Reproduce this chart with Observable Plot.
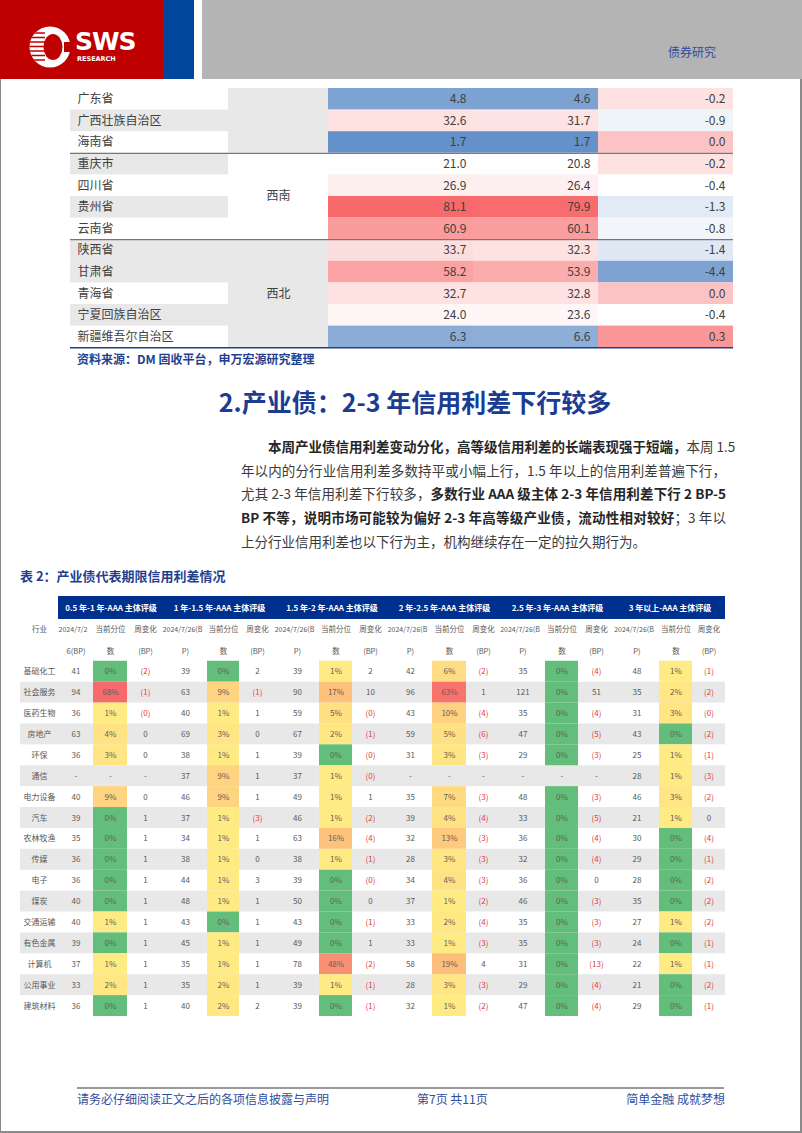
<!DOCTYPE html>
<html><head><meta charset="utf-8">
<script src="https://cdn.jsdelivr.net/npm/d3@7"></script>
<script src="https://cdn.jsdelivr.net/npm/@observablehq/plot@0.6"></script>
<style>
body{margin:0;background:#fff;}
#page{position:relative;width:802px;height:1133px;overflow:hidden;background:#fff;font-family:"Noto Sans CJK SC","Noto Sans",sans-serif;}
.a{position:absolute;}
.para{position:absolute;left:241px;top:435px;width:485px;font-size:13.5px;line-height:23.7px;color:#3a3a3a;}
.para div{white-space:nowrap;text-align:justify;text-align-last:justify;}
.para b{color:#262626;}
.blue{color:#1f3f8e;}
</style></head>
<body><div id="page">
  <!-- page frame -->
  <div class="a" style="left:0;top:0;width:1px;height:1133px;background:#8a8a8a"></div>
  <div class="a" style="left:800px;top:0;width:2px;height:1133px;background:#8a8a8a"></div>
  <div class="a" style="left:0;top:1131px;width:802px;height:2px;background:#8a8a8a"></div>
  <!-- header -->
  <div class="a" style="left:0;top:0;width:163px;height:79px;background:#bf0000"></div>
  <div class="a" style="left:163px;top:0;width:31px;height:79px;background:#00479d"></div>
  <div class="a" style="left:202px;top:0;width:600px;height:79px;background:#b4b4b4"></div>
  <svg class="a" style="left:28px;top:25px" width="46" height="46" viewBox="0 0 46 46">
    <defs><clipPath id="lc"><circle cx="22" cy="22" r="20.5"/></clipPath></defs>
    <circle cx="22" cy="22" r="20.5" fill="#fff"/>
    <g clip-path="url(#lc)" stroke="#bf0000" stroke-width="1.6">
      <line x1="0" x2="17" y1="8" y2="8"/><line x1="0" x2="17" y1="12.5" y2="12.5"/>
      <line x1="0" x2="17" y1="17" y2="17"/><line x1="0" x2="17" y1="21.5" y2="21.5"/>
      <line x1="0" x2="17" y1="26" y2="26"/><line x1="0" x2="17" y1="30.5" y2="30.5"/>
      <line x1="0" x2="17" y1="35" y2="35"/>
    </g>
    <ellipse cx="25" cy="22" rx="9.5" ry="13" fill="#bf0000"/>
    <rect x="36" y="17" width="10" height="10" fill="#bf0000"/>
  </svg>
  <div class="a" style="left:75px;top:28px;font-family:'DejaVu Sans';font-weight:bold;font-size:25px;color:#fff;letter-spacing:-1px;line-height:28px">SWS</div>
  <div class="a" style="left:77px;top:55px;font-family:'DejaVu Sans';font-weight:bold;font-size:6.5px;color:#fff;line-height:8px">RESEARCH</div>
  <div class="a" style="left:668px;top:43px;font-size:12px;color:#2f4d9c;line-height:18px">债券研究</div>

  <div id="topTable" class="a" style="left:0;top:88px"></div>
  <div class="a blue" style="left:77px;top:350px;font-size:12px;font-weight:bold;line-height:18px">资料来源：DM 固收平台，申万宏源研究整理</div>

  <div class="a blue" style="left:115px;top:385px;width:600px;text-align:center;font-size:25px;font-weight:bold;line-height:32px;color:#1c3c92">2.产业债：2-3 年信用利差下行较多</div>

  <div class="para">
    <div style="text-indent:27px"><b>本周产业债信用利差变动分化，高等级信用利差的长端表现强于短端，</b>本周 1.5</div>
    <div>年以内的分行业信用利差多数持平或小幅上行，1.5 年以上的信用利差普遍下行，</div>
    <div>尤其 2-3 年信用利差下行较多，<b>多数行业 AAA 级主体 2-3 年信用利差下行 2 BP-5</b></div>
    <div><b>BP 不等，说明市场可能较为偏好 2-3 年高等级产业债，流动性相对较好</b>；3 年以</div>
    <div style="text-align-last:left">上分行业信用利差也以下行为主，机构继续存在一定的拉久期行为。</div>
  </div>

  <div class="a blue" style="left:20px;top:566px;font-size:13px;font-weight:bold;line-height:20px">表 2：产业债代表期限信用利差情况</div>

  <div id="table2" class="a" style="left:0;top:590px"></div>

  <!-- footer -->
  <div class="a" style="left:77px;top:1087px;width:647px;height:2px;background:#9a9a9a"></div>
  <div class="a" style="left:77px;top:1090px;font-size:12px;color:#2e4d9e;line-height:18px">请务必仔细阅读正文之后的各项信息披露与声明</div>
  <div class="a" style="left:417px;top:1090px;font-size:12px;color:#2e4d9e;line-height:18px">第7页 共11页</div>
  <div class="a" style="left:525px;top:1090px;width:200px;text-align:right;font-size:12px;color:#2e4d9e;line-height:18px">简单金融 成就梦想</div>
</div>
<script>
const FONT = '"Noto Sans CJK SC","Noto Sans",sans-serif';

// ---------- Table 1 (continued): regional spreads ----------
const provinces = ["广东省","广西壮族自治区","海南省","重庆市","四川省","贵州省","云南省","陕西省","甘肃省","青海省","宁夏回族自治区","新疆维吾尔自治区"];
const provinceRegion = ["华南","华南","华南","西南","西南","西南","西南","西北","西北","西北","西北","西北"];
const spreadPrevWeek = [4.8,32.6,1.7,21.0,26.9,81.1,60.9,33.7,58.2,32.7,24.0,6.3];
const spreadThisWeek = [4.6,31.7,1.7,20.8,26.4,79.9,60.1,32.3,53.9,32.8,23.6,6.6];
const spreadWeekChange = [-0.2,-0.9,0.0,-0.2,-0.4,-1.3,-0.8,-1.4,-4.4,0.0,-0.4,0.3];

// ---------- Table 2: industry spreads by tenor ----------
const industries = ["基础化工","社会服务","医药生物","房地产","环保","通信","电力设备","汽车","农林牧渔","传媒","电子","煤炭","交通运输","有色金属","计算机","公用事业","建筑材料"];
const tenorBuckets = ["0.5 年-1 年-AAA 主体评级","1 年-1.5 年-AAA 主体评级","1.5 年-2 年-AAA 主体评级","2 年-2.5 年-AAA 主体评级","2.5 年-3 年-AAA 主体评级","3 年以上-AAA 主体评级"];
const subHeaders = ["行业","2024/7/26(BP)","当前分位数","周变化(BP)"];

const spread_05_1 = [41,94,36,63,36,null,40,39,35,36,36,40,40,39,37,33,36];
const pct_05_1    = [0,68,1,4,3,null,9,0,0,0,0,0,1,0,1,2,0];
const chg_05_1    = [-2,-1,-0.3,0,0,null,0,1,1,1,1,1,1,1,1,1,1];

const spread_1_15 = [39,63,40,69,38,37,46,37,34,38,44,48,43,45,35,35,40];
const pct_1_15    = [0,9,1,3,1,9,9,1,1,1,1,1,0,1,1,2,2];
const chg_1_15    = [2,-1,1,0,1,1,1,-3,1,0,3,1,1,1,1,1,2];

const spread_15_2 = [39,90,59,67,39,37,49,46,63,38,39,50,43,49,78,39,39];
const pct_15_2    = [1,17,5,2,0,1,1,1,16,1,0,0,0,0,48,1,0];
const chg_15_2    = [2,10,-0.3,-1,-0.3,-0.3,1,-2,-4,-1,-0.3,0,-1,1,-2,-1,-1];

const spread_2_25 = [42,96,43,59,31,null,35,39,32,28,34,37,33,33,58,28,32];
const pct_2_25    = [6,63,10,5,3,null,7,4,13,3,4,1,2,1,19,3,1];
const chg_2_25    = [-2,1,-4,-6,-3,null,-3,-4,-3,-3,-3,-2,-4,-3,4,-3,-2];

const spread_25_3 = [35,121,35,47,29,null,48,33,36,32,36,46,35,35,31,29,47];
const pct_25_3    = [0,0,0,0,0,null,0,0,0,0,0,0,0,0,0,0,0];
const chg_25_3    = [-4,51,-4,-5,-3,null,-3,-5,-4,-4,0,-3,-3,-3,-13,-4,-4];

const spread_3p = [48,35,31,43,25,28,46,21,30,29,28,35,27,24,22,21,29];
const pct_3p    = [1,2,3,0,1,1,3,1,0,0,0,0,1,0,1,0,0];
const chg_3p    = [-1,-2,-0.3,-2,-1,-3,-2,0,-4,-1,-2,-2,-2,-1,-1,-2,-1];

// ---------- layout (not data) ----------
const T1_LEFT = 70, T1_W = [158,100,145,125,135];
const T1_E = T1_W.reduce((a,w)=>(a.push(a[a.length-1]+w),a),[T1_LEFT]);
const T1_NAME_SHADE = [0,1,0,1,0,1,0,1,1,0,1,0];
const T2_LEFT = 20, T2_W = [38, 35,34,36, 44,32,36, 44,33,36, 44,34,34, 45,33,36, 45,33,33];
const T2_E = T2_W.reduce((a,w)=>(a.push(a[a.length-1]+w),a),[T2_LEFT]);

// ---------- Table 1 ----------
{
  const rows = provinces.map((p,i)=>({i, p, region: provinceRegion[i], a: spreadPrevWeek[i], b: spreadThisWeek[i], c: spreadWeekChange[i]}));
  const groups = [];
  rows.forEach(d => {
    const g = groups[groups.length-1];
    if (g && g.region === d.region) g.end = d.i + 1;
    else groups.push({region: d.region, start: d.i, end: d.i + 1, k: groups.length});
  });
  const nv = d3.scaleLinear().domain([0.5,20.5,81.1]).range([-1,0,1]).clamp(true);
  const nc = d3.scaleLinear().domain([-5.5,-0.4,0.6]).range([-1,0,1]).clamp(true);
  const txt = {fontSize:12, fill:"#404040"};
  const chart = Plot.plot({
    width: 802, height: 262, margin: 0,
    x: {domain:[0,802], range:[0,802], axis:null},
    y: {domain:[0,12], range:[0,259.2], axis:null},
    color: {type:"linear", domain:[-1,0,1], range:["#5a8ac6","#ffffff","#f8696b"], interpolate:"rgb"},
    style: {fontFamily: FONT, background:"transparent", overflow:"visible"},
    marks: [
      Plot.rect(rows.filter(d=>T1_NAME_SHADE[d.i]), {x1:T1_E[0], x2:T1_E[1], y1:"i", y2:d=>d.i+1, fill:"#e8e8e8"}),
      Plot.rect(groups.filter(g=>g.k%2===0), {x1:T1_E[1], x2:T1_E[2], y1:"start", y2:"end", fill:"#e8e8e8"}),
      Plot.rect(rows, {x1:T1_E[2], x2:T1_E[3], y1:"i", y2:d=>d.i+1, fill:d=>nv(d.a)}),
      Plot.rect(rows, {x1:T1_E[3], x2:T1_E[4], y1:"i", y2:d=>d.i+1, fill:d=>nv(d.b)}),
      Plot.rect(rows, {x1:T1_E[4], x2:T1_E[5], y1:"i", y2:d=>d.i+1, fill:d=>nc(d.c)}),
      Plot.ruleY(groups.slice(1), {y:"start", x1:T1_E[0], x2:T1_E[5], stroke:"#5a5a5a", strokeWidth:1}),
      Plot.ruleY([12], {x1:T1_E[0], x2:T1_E[5], stroke:"#1f3f8e", strokeWidth:1.5}),
      Plot.text(rows, {x:T1_E[0]+7, y:d=>d.i+0.5, text:"p", textAnchor:"start", ...txt}),
      Plot.text(groups.slice(1), {x:(T1_E[1]+T1_E[2])/2, y:g=>(g.start+g.end)/2, text:"region", ...txt}),
      Plot.text(rows, {x:T1_E[3]-7, y:d=>d.i+0.5, text:d=>d.a.toFixed(1), textAnchor:"end", ...txt}),
      Plot.text(rows, {x:T1_E[4]-8, y:d=>d.i+0.5, text:d=>d.b.toFixed(1), textAnchor:"end", ...txt}),
      Plot.text(rows, {x:T1_E[5]-8, y:d=>d.i+0.5, text:d=>d.c.toFixed(1), textAnchor:"end", ...txt})
    ]
  });
  document.getElementById("topTable").appendChild(chart);
}

// ---------- Table 2 ----------
{
  const spreads = [spread_05_1, spread_1_15, spread_15_2, spread_2_25, spread_25_3, spread_3p];
  const pcts = [pct_05_1, pct_1_15, pct_15_2, pct_2_25, pct_25_3, pct_3p];
  const chgs = [chg_05_1, chg_1_15, chg_15_2, chg_2_25, chg_25_3, chg_3p];
  const cells = [];
  industries.forEach((name,i) => tenorBuckets.forEach((t,g) => cells.push({i, g, s: spreads[g][i], p: pcts[g][i], c: chgs[g][i]})));
  const fmtChg = v => v == null ? "-" : v < 0 ? `(${Math.abs(Math.round(v))})` : String(Math.round(v));
  const mid = (k) => (T2_E[k] + T2_E[k+1]) / 2;
  // header labels (Excel-wrapped)
  const hdr = [{k:0, t:subHeaders[0], line:0, date:false}];
  tenorBuckets.forEach((t,g) => {
    const date = subHeaders[1];
    const cut = g === 0 ? 8 : 11;
    hdr.push({k:1+3*g, t:date.slice(0,cut), line:0, date:true}, {k:1+3*g, t:date.slice(cut), line:1, date:true});
    hdr.push({k:2+3*g, t:subHeaders[2].slice(0,4), line:0}, {k:2+3*g, t:subHeaders[2].slice(4), line:1});
    hdr.push({k:3+3*g, t:subHeaders[3].slice(0,3), line:0}, {k:3+3*g, t:subHeaders[3].slice(3), line:1});
  });
  // Excel-like green-yellow-red colour scale stops
  const yr = d3.interpolateRgb("#ffeb84", "#f8696b");
  const pctStops = [0, 1, 9, 17, 48, 68];
  const pctColors = ["#63be7b", "#ffeb84", yr(0.18), yr(0.32), yr(0.70), "#f8696b"];
  const base = {fontSize:8, fill:"#595959"};
  const chart = Plot.plot({
    width: 802, height: 432, marginTop: 6, marginBottom: 6, marginLeft: 0, marginRight: 0,
    x: {domain:[0,802], range:[0,802], axis:null},
    y: {domain:[-3.1,17], range:[6,426], axis:null},
    color: {type:"linear", domain:pctStops, range:pctColors, interpolate:"rgb"},
    style: {fontFamily: FONT, background:"transparent", overflow:"visible"},
    marks: [
      Plot.rect(industries.map((n,i)=>({i})).filter(d=>d.i%2===1), {x1:T2_E[0], x2:T2_E[19], y1:"i", y2:d=>d.i+1, fill:"#e8e8e8"}),
      Plot.rect([0], {x1:T2_E[1], x2:T2_E[19], y1:-3.1, y2:-2.0, fill:"#00308e"}),
      Plot.text(tenorBuckets, {x:(d,g)=>(T2_E[1+3*g]+T2_E[4+3*g])/2, y:-2.55, text:d=>d, fill:"#fff", fontWeight:"bold", fontSize:8}),
      Plot.text(hdr, {x:d=>mid(d.k) - (d.date && d.line===0 ? 3 : 0), y:d=>d.line===0 ? -1.5 : -0.45, text:"t", fontSize:d=>d.date && d.line===0 ? 7 : 7.5, fill:"#595959"}),
      Plot.rect(cells.filter(d=>d.p!=null), {x1:d=>T2_E[2+3*d.g], x2:d=>T2_E[3+3*d.g], y1:"i", y2:d=>d.i+1, fill:"p"}),
      Plot.text(industries, {x:mid(0), y:(d,i)=>i+0.5, text:d=>d, ...base}),
      Plot.text(cells, {x:d=>mid(1+3*d.g), y:d=>d.i+0.5, text:d=>d.s==null?"-":String(d.s), ...base}),
      Plot.text(cells, {x:d=>mid(2+3*d.g), y:d=>d.i+0.5, text:d=>d.p==null?"-":d.p+"%", fontSize:8, fill:"#5f5f5f"}),
      Plot.text(cells, {x:d=>mid(3+3*d.g), y:d=>d.i+0.5, text:d=>fmtChg(d.c), fontSize:8, fill:d=>d.c!=null&&d.c<0?"#e23b3b":"#595959"})
    ]
  });
  document.getElementById("table2").appendChild(chart);
}
</script>
</body></html>
